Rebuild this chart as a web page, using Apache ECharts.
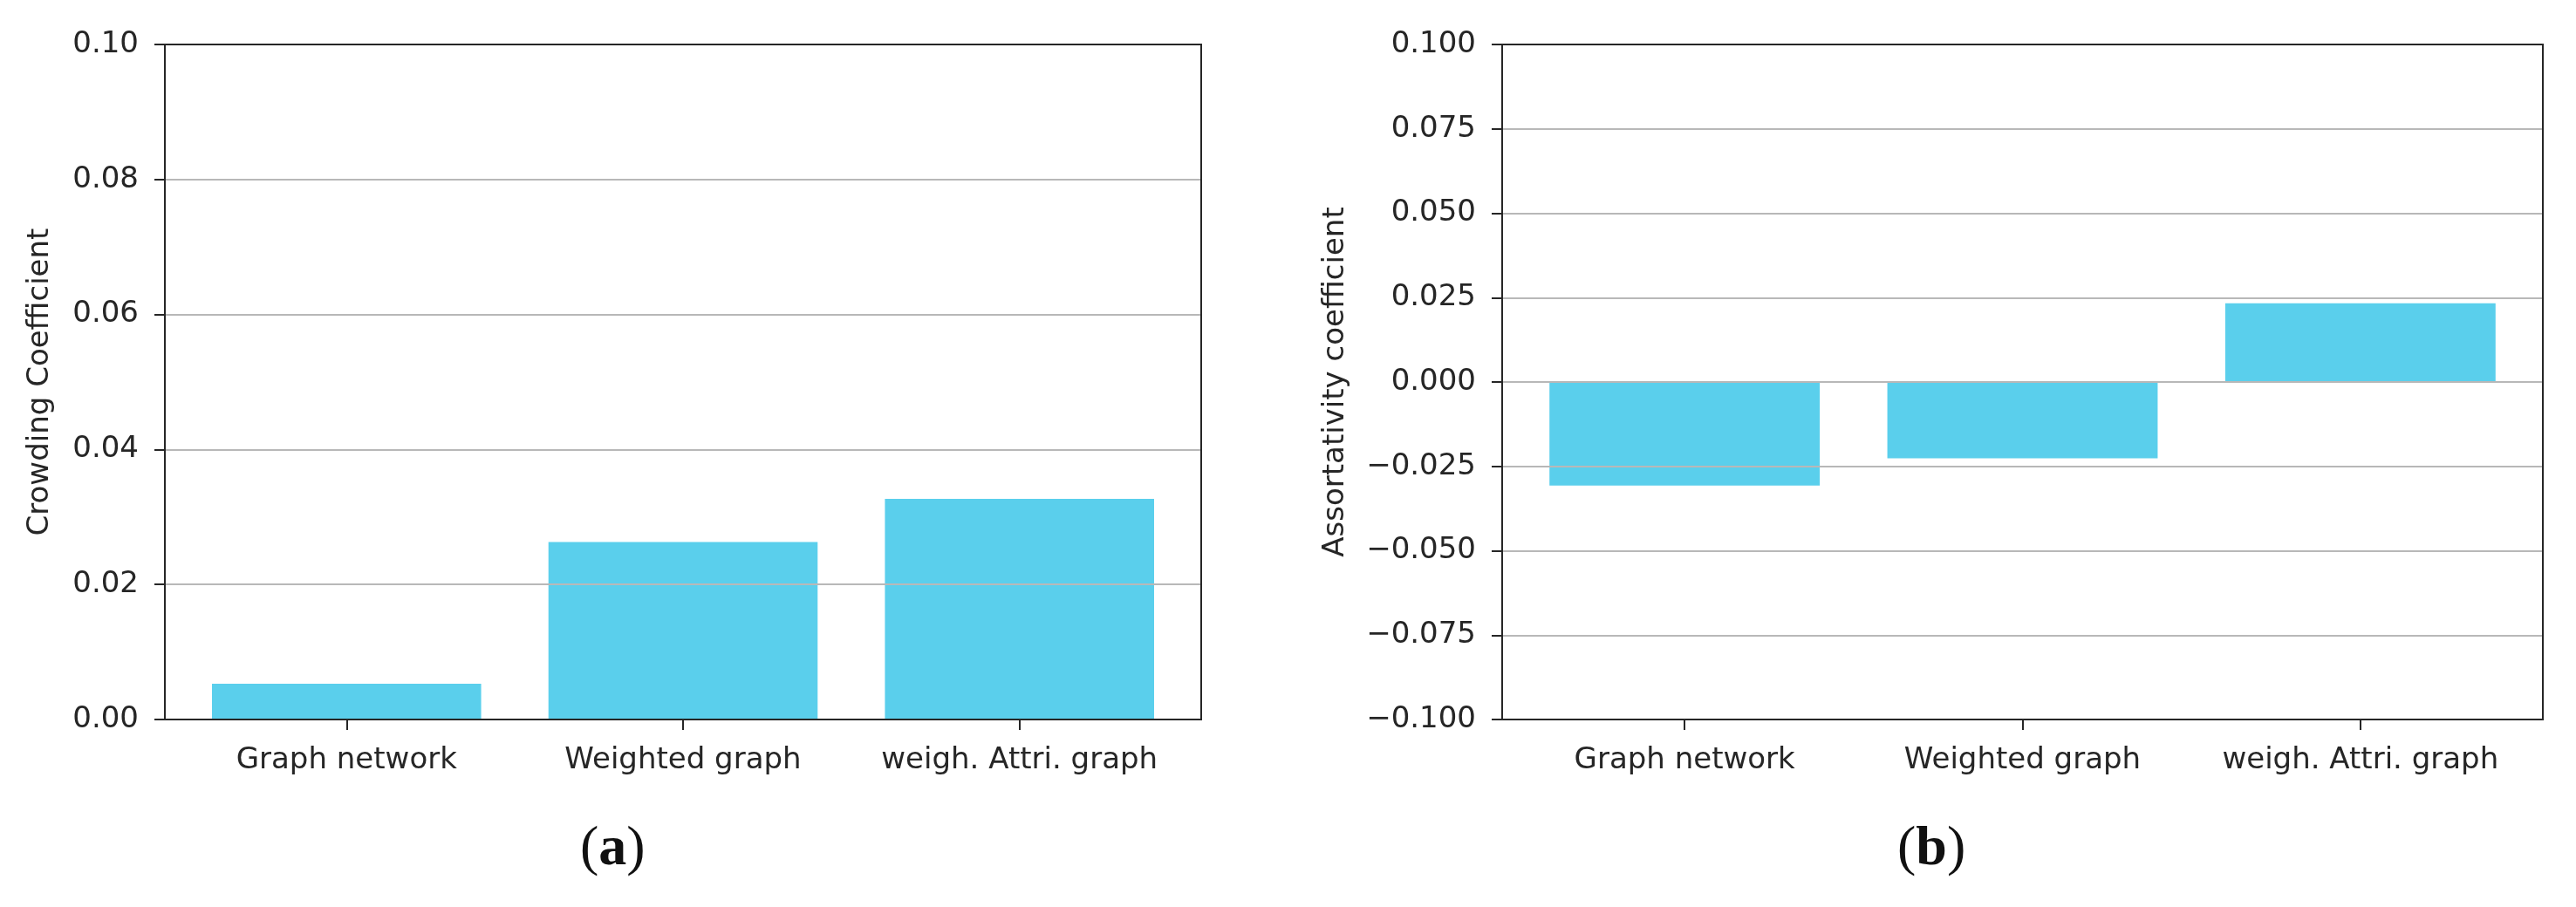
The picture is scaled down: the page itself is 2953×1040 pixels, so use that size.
<!DOCTYPE html>
<html>
<head>
<meta charset="utf-8">
<script src="https://cdn.jsdelivr.net/npm/echarts@6/dist/echarts.min.js"></script>
<style>
html,body{margin:0;padding:0;background:#fff;}
#chart{width:2953px;height:1040px;}
</style>
</head>
<body>
<div id="chart"></div>
<script>
// ---- data ----
const categories = ['Graph network', 'Weighted graph', 'weigh. Attri. graph'];
const crowdingValues = [0.0053, 0.0263, 0.0327];
const assortValues = [-0.0307, -0.0226, 0.0233];
const crowdingTicks = {min: 0, max: 0.10, step: 0.02, digits: 2};
const assortTicks = {min: -0.10, max: 0.10, step: 0.025, digits: 3};
const panelLabels = ['a', 'b'];
const yTitles = ['Crowding Coefficient', 'Assortativity coefficient'];

// ---- layout ----
const FONT = 'DejaVu Sans';
const FS = 34;
const TXT = '#262626';
const BAR = '#5ACFEC';
const frames = [
  {left: 189, top: 51, width: 1188, height: 774, nameGap: 126},
  {left: 1722, top: 51, width: 1193, height: 774, nameGap: 174}
];
const XMARGIN = 0.05; // matplotlib default x margin

function fmt(v, d) {
  const s = Math.abs(v) < 1e-12 ? (0).toFixed(d) : v.toFixed(d);
  return s.replace('-', '\u2212');
}

const grids = [], xAxes = [], yAxes = [], series = [], graphics = [];
const panels = [
  {vals: crowdingValues, ticks: crowdingTicks, title: yTitles[0]},
  {vals: assortValues, ticks: assortTicks, title: yTitles[1]}
];

panels.forEach((p, i) => {
  const f = frames[i];
  const n = categories.length;
  const span = ((n - 1) + 0.8) * (1 + 2 * XMARGIN);
  const u = f.width / span;
  const innerLeft = f.left + (span - n) / 2 * u;
  const innerWidth = n * u;

  const gFrame = grids.length;
  grids.push({left: f.left, top: f.top, width: f.width, height: f.height,
    show: true, borderColor: '#262626', borderWidth: 2, backgroundColor: 'transparent', z: 4});
  const gInner = grids.length;
  grids.push({left: innerLeft, top: f.top, width: innerWidth, height: f.height, show: false});

  xAxes.push({gridIndex: gFrame, type: 'value', min: 0, max: 1, show: false});
  const xInner = xAxes.length;
  xAxes.push({
    gridIndex: gInner, type: 'category', data: categories, position: 'bottom',
    axisLine: {show: false, onZero: false},
    axisTick: {show: true, alignWithLabel: true, length: 12, lineStyle: {color: '#262626', width: 2}},
    axisLabel: {interval: 0, margin: 30, color: TXT, fontFamily: FONT, fontSize: FS},
    splitLine: {show: false}
  });

  yAxes.push({
    gridIndex: gFrame, type: 'value', min: p.ticks.min, max: p.ticks.max, interval: p.ticks.step,
    z: 3,
    axisLine: {show: true, onZero: false, lineStyle: {color: '#262626', width: 2}},
    axisTick: {show: true, length: 12, lineStyle: {color: '#262626', width: 2}},
    axisLabel: {margin: 30, color: TXT, fontFamily: FONT, fontSize: FS,
      formatter: v => fmt(v, p.ticks.digits)},
    splitLine: {show: true, lineStyle: {color: '#b8b8b8', width: 2}},
    name: p.title, nameLocation: 'middle', nameGap: f.nameGap,
    nameTextStyle: {color: TXT, fontFamily: FONT, fontSize: FS}
  });
  const yInner = yAxes.length;
  yAxes.push({gridIndex: gInner, type: 'value', min: p.ticks.min, max: p.ticks.max, show: false});

  series.push({
    type: 'bar', xAxisIndex: xInner, yAxisIndex: yInner, data: p.vals,
    barWidth: '80%', itemStyle: {color: BAR}, z: 2, silent: true
  });
});

const labelX = [705, 2215];
panelLabels.forEach((l, i) => {
  graphics.push({
    type: 'text', left: labelX[i] - 40, top: 942,
    style: {
      text: '{p|(}{b|' + l + '}{p|)}',
      rich: {
        p: {fontFamily: 'Liberation Serif', fontSize: 64, fill: '#111'},
        b: {fontFamily: 'Liberation Serif', fontSize: 64, fontWeight: 'bold', fill: '#111'}
      }
    }
  });
});

const chart = echarts.init(document.getElementById('chart'), null, {renderer: 'canvas'});
chart.setOption({
  animation: false,
  backgroundColor: '#fff',
  grid: grids, xAxis: xAxes, yAxis: yAxes, series: series, graphic: graphics
});
</script>
</body>
</html>
